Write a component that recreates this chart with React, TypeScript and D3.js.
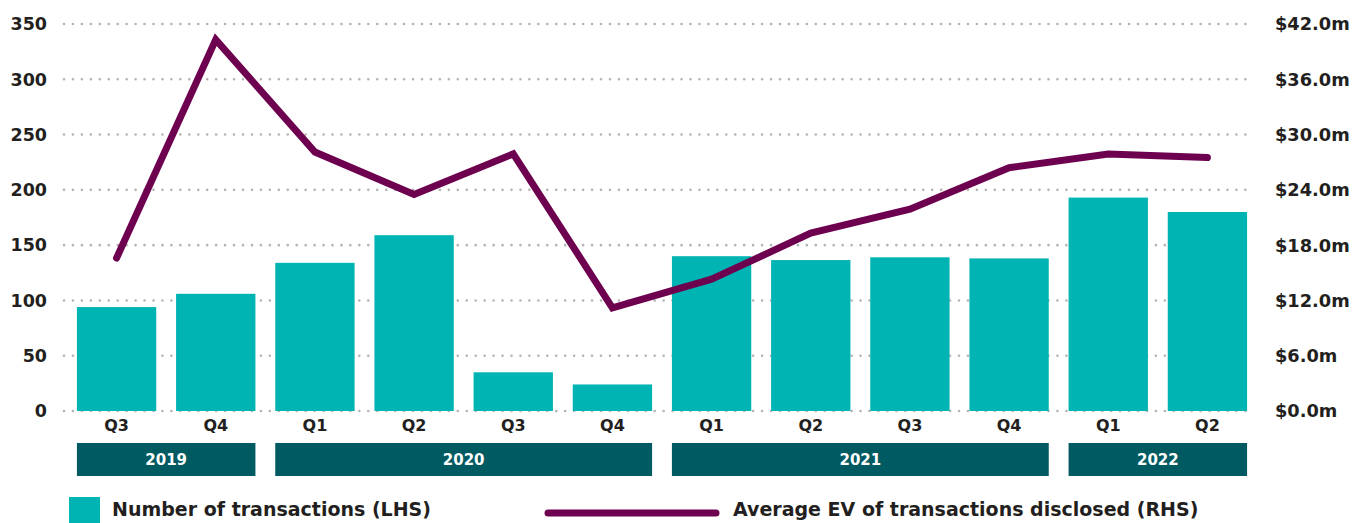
import React from "react";
import * as d3 from "d3";

const quarters = ["Q3", "Q4", "Q1", "Q2", "Q3", "Q4", "Q1", "Q2", "Q3", "Q4", "Q1", "Q2"];
const years = ["2019", "2019", "2020", "2020", "2020", "2020", "2021", "2021", "2021", "2021", "2022", "2022"];
const transactions = [94, 106, 134, 159, 35, 24, 140, 136.5, 139, 138, 193, 180];
const avgEV = [16.6, 40.3, 28.1, 23.5, 27.9, 11.2, 14.3, 19.3, 21.9, 26.4, 27.9, 27.5];
const leftTicks = [0, 50, 100, 150, 200, 250, 300, 350];
const rightTicks = [0, 6, 12, 18, 24, 30, 36, 42];
const legendLabels = ["Number of transactions (LHS)", "Average EV of transactions disclosed (RHS)"];

const W = 1352;
const H = 523;
const TEAL = "#00b4b4";
const PURPLE = "#6e0050";
const BAND = "#005a62";
const TEXT = "#231f20";
const FONT = "'DejaVu Sans', sans-serif";

export default function App() {
  const ids = quarters.map((_, i) => String(i));
  const x = d3.scaleBand<string>().domain(ids).range([67, 1257]).paddingInner(0.2).paddingOuter(0.1);
  const yL = d3.scaleLinear().domain([0, 350]).range([411, 24]);
  const yR = d3.scaleLinear().domain([0, 42]).range([411, 24]);
  const bw = x.bandwidth();

  const line = d3
    .line<number>()
    .x((_, i) => (x(String(i)) as number) + bw / 2)
    .y((d) => yR(d));

  const groups: { year: string; start: number; end: number }[] = [];
  years.forEach((yv, i) => {
    const g = groups[groups.length - 1];
    if (g && g.year === yv) g.end = i;
    else groups.push({ year: yv, start: i, end: i });
  });

  return (
    <div style={{ position: "absolute", left: 0, top: 0 }}>
      <svg width={W} height={H} style={{ display: "block", fontFamily: FONT }}>
        {leftTicks.map((t) => (
          <line
            key={"g" + t}
            x1={64}
            x2={1254}
            y1={yL(t)}
            y2={yL(t)}
            stroke="#b3b3b3"
            strokeWidth={2.6}
            strokeLinecap="round"
            strokeDasharray="0 8.95"
          />
        ))}
        {leftTicks.map((t) => (
          <text
            key={"l" + t}
            x={47}
            y={yL(t)}
            dy="0.36em"
            textAnchor="end"
            fontSize={17.5}
            fontWeight={700}
            fill={TEXT}
          >
            {t}
          </text>
        ))}
        {rightTicks.map((t) => (
          <text
            key={"r" + t}
            x={1275}
            y={yR(t)}
            dy="0.36em"
            textAnchor="start"
            fontSize={17.8}
            fontWeight={700}
            fill={TEXT}
          >
            {"$" + t.toFixed(1) + "m"}
          </text>
        ))}
        {transactions.map((v, i) => (
          <rect
            key={"b" + i}
            x={x(String(i))}
            y={yL(v)}
            width={bw}
            height={yL(0) - yL(v)}
            fill={TEAL}
          />
        ))}
        <path
          d={line(avgEV) || ""}
          fill="none"
          stroke={PURPLE}
          strokeWidth={7}
          strokeLinejoin="miter"
          strokeLinecap="round"
        />
        {quarters.map((q, i) => (
          <text
            key={"q" + i}
            x={(x(String(i)) as number) + bw / 2}
            y={425}
            dy="0.36em"
            textAnchor="middle"
            fontSize={16}
            fontWeight={700}
            fill={TEXT}
          >
            {q}
          </text>
        ))}
        {groups.map((g) => {
          const x0 = x(String(g.start)) as number;
          const x1 = (x(String(g.end)) as number) + bw;
          return (
            <g key={g.year}>
              <rect x={x0} y={443} width={x1 - x0} height={33} fill={BAND} />
              <text
                x={(x0 + x1) / 2}
                y={460}
                dy="0.36em"
                textAnchor="middle"
                fontSize={15}
                fontWeight={700}
                fill="#ffffff"
              >
                {g.year}
              </text>
            </g>
          );
        })}
        <rect x={69} y={497} width={31} height={31} fill={TEAL} />
        <text x={112} y={509} dy="0.36em" fontSize={19} fontWeight={700} fill={TEXT}>
          {legendLabels[0]}
        </text>
        <line x1={548} x2={716} y1={513} y2={513} stroke={PURPLE} strokeWidth={7} strokeLinecap="round" />
        <text x={733} y={509} dy="0.36em" fontSize={19} fontWeight={700} fill={TEXT}>
          {legendLabels[1]}
        </text>
      </svg>
    </div>
  );
}
